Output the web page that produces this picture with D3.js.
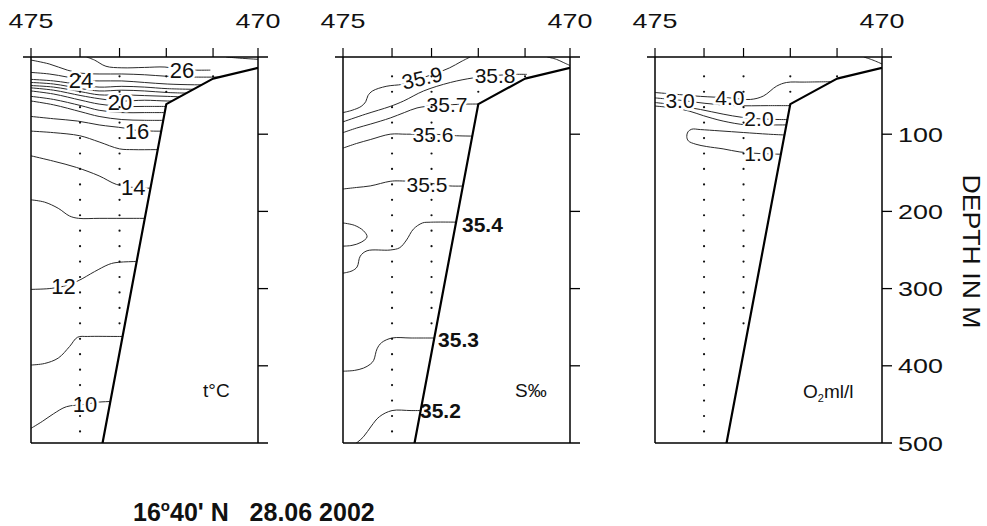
<!DOCTYPE html>
<html>
<head>
<meta charset="utf-8">
<script src="https://cdn.jsdelivr.net/npm/d3@7"></script>
<style>
  html, body { margin: 0; padding: 0; background: #fff; }
  svg { display: block; }
</style>
</head>
<body>
<svg id="chart" width="987" height="526"></svg>
<script>
// ---- Section geometry -------------------------------------------------
// Station numbers and their positions along the section (0 = st. 475, 100 = st. 470)
const stations    = [475, 474, 473, 472, 471, 470];
const stationDist = [0, 21.6, 39.0, 59.6, 80.2, 100];

// Sea-floor depth (m) under stations 474 ... 470
const bottomDist  = [21.6, 39.0, 59.6, 80.2, 100];
const bottomDepth = [655, 383, 61, 28, 14];

// Bottle / CTD sampling depths (m) shown as dots
const samples474 = [25, 45, 65, 85, 105, 125, 145, 165, 185, 205, 225, 245, 265, 285, 305, 325, 345, 365, 385, 405, 425, 445, 465, 485];
const samples473 = [25, 45, 65, 85, 105, 125, 145, 165, 185, 205, 225, 245, 265, 285, 305, 325, 345];
const samples472 = [25, 45];
const samples471 = [25];

const depthTicks = [100, 200, 300, 400, 500];
const edgeLabels = ["475", "470"];

// ---- Temperature (°C) isolines: [distance, depth] -----------------------
const tempContours = [
  { value: 27, pts: [[86, 0], [92, 1.5], [100, 3]] },
  { value: 26, pts: [[24.5, 0], [28, 4], [33, 12], [40, 14], [50, 13.5], [59, 13], [66.5, 16], [72, 17], [79, 17]] },
  { value: 25, pts: [[0, 4], [8, 9], [16, 17], [22, 21], [30, 22], [40, 22], [50, 23], [60, 25], [72, 26], [86, 26]] },
  { value: 24, pts: [[0, 20], [8, 22], [16, 26], [22, 30], [30, 31], [40, 31], [50, 33], [60, 35], [72, 36], [80, 36]] },
  { value: 23, pts: [[0, 29], [10, 31], [22, 36], [30, 39], [40, 38], [50, 39], [60, 41], [75, 42]] },
  { value: 22, pts: [[0, 33], [10, 35], [22, 41], [30, 44], [40, 43], [50, 44], [60, 46], [72, 47]] },
  { value: 21, pts: [[0, 37], [10, 39], [22, 45], [30, 49], [40, 49], [50, 50], [60, 51], [70, 52]] },
  { value: 20, pts: [[0, 40], [10, 43], [22, 50], [30, 54], [39, 57], [50, 56], [60, 57], [66, 57]] },
  { value: 19, pts: [[0, 44], [10, 48], [22, 56], [30, 61], [40, 64], [50, 64], [62, 64]] },
  { value: 18, pts: [[0, 51], [10, 55], [22, 63], [30, 69], [40, 72], [50, 72], [62, 72]] },
  { value: 17, pts: [[0, 57], [10, 62], [22, 71], [30, 77], [40, 81], [50, 82], [62, 82]] },
  { value: 16, pts: [[0, 77], [10, 80], [20.6, 83], [30, 88], [41, 92], [46.5, 95], [54, 96], [62, 96]] },
  { value: 15, pts: [[0, 96], [10, 98], [21.5, 102], [30, 110], [39, 119], [45, 120], [55, 120], [62, 120]] },
  { value: 14, pts: [[0, 128], [10, 135], [20, 143], [30, 154], [37.6, 165], [45, 169], [55, 170]] },
  { value: 13, pts: [[0, 185], [6, 188], [12, 196], [17, 206], [21, 209], [30, 209], [45, 209], [54, 209]] },
  { value: 12, pts: [[0, 301], [8, 300], [14.3, 297], [20.7, 290], [28, 278], [34, 269], [37, 266.5], [45, 265], [52, 265]] },
  { value: 11, pts: [[0, 399], [6, 397], [12, 390], [17, 375], [20.5, 363], [25, 362], [38, 362], [45, 362]] },
  { value: 10, pts: [[0, 481], [5, 472], [10, 462], [15.6, 453], [23.7, 450], [30, 447], [40, 446]] }
];
const tempLabels = [
  { value: 26, dist: 66.5, depth: 17 },
  { value: 24, dist: 22, depth: 30 },
  { value: 20, dist: 39.2, depth: 58 },
  { value: 16, dist: 46.7, depth: 96 },
  { value: 14, dist: 45, depth: 169 },
  { value: 12, dist: 14.3, depth: 297 },
  { value: 10, dist: 23.8, depth: 450 }
];

// ---- Salinity (‰) isolines ----------------------------------------------
const salContours = [
  { value: 36.0, pts: [[90, 0], [94, 3], [97, 7], [100, 11]] },
  { value: 35.9, pts: [[56, 0], [52, 6], [47, 14], [41, 21], [35, 27], [29, 33], [26, 35.5], [19, 38], [13, 44], [11, 50], [10, 58], [8, 64], [4, 69], [0, 72]] },
  { value: 35.8, pts: [[0, 84], [10, 74], [20.8, 64], [26.7, 57], [35.5, 44], [47.3, 33], [57.5, 27], [67, 24], [75, 22.5], [81, 22.5]] },
  { value: 35.7, pts: [[0, 98], [6, 92], [12, 87], [20.8, 79], [27, 72], [32.6, 66], [40, 63], [46, 62], [55, 61], [62, 61]] },
  { value: 35.6, pts: [[0, 118], [6, 112], [12, 107], [20.8, 100], [28, 100], [39.6, 100], [50, 102], [58, 102.5]] },
  { value: 35.5, pts: [[0, 171], [6, 169], [12, 167], [20.8, 161], [25, 160.5], [37, 163], [47, 167], [55, 167]] },
  { value: 35.4, pts: [[0, 280], [4, 277], [6.2, 272], [7.6, 258], [10.6, 251], [20.8, 250], [25, 247], [28, 237], [31, 223], [35, 215], [38.5, 214], [52, 214]] },
  { value: 35.4, pts: [[0, 215], [5, 218], [9, 225], [10.6, 233], [8, 240], [4, 244], [0, 245]] },
  { value: 35.3, pts: [[0, 407], [5, 406], [9, 403], [12, 398], [13.5, 393], [15, 378], [17, 370], [21.6, 364], [30, 364], [42, 364]] },
  { value: 35.2, pts: [[1, 515], [4, 505], [9, 492], [12.5, 478], [16, 466], [21.6, 458], [30, 458], [36, 458]] }
];
const salLabels = [
  { value: 35.9, dist: 34.8, depth: 27 },
  { value: 35.8, dist: 67, depth: 23.4 },
  { value: 35.7, dist: 45.8, depth: 62 },
  { value: 35.6, dist: 39.6, depth: 100 },
  { value: 35.5, dist: 37, depth: 165.5 },
  { value: 35.4, dist: 52.4, depth: 217 },
  { value: 35.3, dist: 41.9, depth: 366 },
  { value: 35.2, dist: 33.9, depth: 458 }
];

// ---- Dissolved oxygen (ml/l) isolines -------------------------------------
const oxyContours = [
  { value: 5.0, pts: [[92, 0], [96, 4], [100, 9]] },
  { value: 4.0, pts: [[0, 46], [8, 48], [20, 51], [33, 53], [42, 55], [47.7, 50.6], [53.6, 37.7], [58, 33], [66, 32.5], [78, 32]] },
  { value: 3.0, pts: [[0, 53], [11, 56], [22, 60], [35, 63], [50, 63], [62, 63]] },
  { value: 2.0, pts: [[0, 59], [6, 61], [12, 64], [20, 68], [30, 74], [38, 78], [45.8, 80], [55, 81], [60, 81]] },
  { value: 1.5, pts: [[0, 63.5], [8, 66], [15, 70], [21.3, 76], [30, 83], [40.4, 88], [50, 88], [60, 88]] },
  { value: 1.0, pts: [[57, 101], [50, 100], [38.9, 97.8], [28.6, 95.7], [20, 94], [16.2, 93.5], [14.5, 97], [14, 103], [14.7, 108.7], [18, 113], [22.8, 116], [30, 119], [37.4, 123], [45.8, 125], [56, 126]] }
];
const oxyLabels = [
  { value: 3.0, dist: 11, depth: 56 },
  { value: 4.0, dist: 33, depth: 53 },
  { value: 2.0, dist: 45.8, depth: 80 },
  { value: 1.0, dist: 45.8, depth: 125 }
];

// ---- Drawing -------------------------------------------------------------
const FONT = "'Liberation Sans', Arial, Helvetica, sans-serif";
const svg = d3.select("#chart");
const defs = svg.append("defs");

const panelLeft = [31, 343, 655];
const panelWidth = 227;
const y = d3.scaleLinear().domain([0, 500]).range([57, 443]);

const panels = [
  { contours: tempContours, labels: tempLabels, fmt: d3.format("d"), size: 22, unit: "t" },
  { contours: salContours, labels: salLabels, fmt: d3.format(".1f"), size: 21, unit: "s" },
  { contours: oxyContours, labels: oxyLabels, fmt: d3.format(".1f"), size: 21, unit: "o" }
];

// salinity labels that sit beside the slope (printed bold, left-aligned)
const slopeLabels = new Set([35.4, 35.3, 35.2]);
const tiltedLabels = new Map([[35.9, -13]]);

const stationSamples = [
  { dist: stationDist[1], depths: samples474 },
  { dist: stationDist[2], depths: samples473 },
  { dist: stationDist[3], depths: samples472 },
  { dist: stationDist[4], depths: samples471 }
];

// text that is drawn a bit wider than the regular face
function wideText(parent, x, yPos, str, size, sx, anchor, rotate) {
  const g = parent.append("g")
    .attr("transform", `translate(${x},${yPos}) rotate(${rotate || 0}) scale(${sx},1)`);
  return g.append("text")
    .attr("text-anchor", anchor)
    .attr("font-family", FONT)
    .attr("font-size", size)
    .attr("fill", "#111")
    .text(str);
}

panels.forEach((p, i) => {
  const x = d3.scaleLinear().domain([0, 100]).range([panelLeft[i], panelLeft[i] + panelWidth]);
  const g = svg.append("g");

  // clip to the panel frame, then to the water column above the sea floor
  defs.append("clipPath").attr("id", "frame" + i)
    .append("rect")
    .attr("x", x(0)).attr("y", y(0))
    .attr("width", x(100) - x(0)).attr("height", y(500) - y(0));

  const waterPts = [[0, 0], [100, 0]];
  for (let k = bottomDist.length - 1; k >= 0; k--) waterPts.push([bottomDist[k], bottomDepth[k]]);
  waterPts.push([0, bottomDepth[0]]);
  defs.append("clipPath").attr("id", "water" + i)
    .append("path")
    .attr("d", d3.line().x(d => x(d[0])).y(d => y(d[1]))(waterPts) + "Z");

  const water = g.append("g").attr("clip-path", `url(#frame${i})`)
    .append("g").attr("clip-path", `url(#water${i})`);

  const iso = d3.line()
    .x(d => x(d[0])).y(d => y(d[1]))
    .curve(d3.curveCatmullRom.alpha(0.5));

  water.selectAll("path.iso")
    .data(p.contours)
    .join("path")
    .attr("class", "iso")
    .attr("d", d => iso(d.pts))
    .attr("fill", "none")
    .attr("stroke", "#2a2a2a")
    .attr("stroke-width", 1);

  // isoline labels (white halo breaks the line under the number)
  p.labels.forEach(l => {
    const onSlope = i === 1 && slopeLabels.has(l.value);
    const rot = i === 1 && tiltedLabels.has(l.value) ? tiltedLabels.get(l.value) : 0;
    g.append("text")
      .attr("transform", `translate(${x(l.dist)},${y(l.depth)}) rotate(${rot})`)
      .attr("dy", "0.36em")
      .attr("text-anchor", onSlope ? "start" : "middle")
      .attr("font-family", FONT)
      .attr("font-size", p.size)
      .attr("font-weight", onSlope ? "bold" : "normal")
      .attr("fill", "#111")
      .attr("stroke", "#fff")
      .attr("stroke-width", onSlope ? 0 : 5)
      .attr("paint-order", "stroke")
      .text(p.fmt(l.value));
  });

  // sea floor
  g.append("g").attr("clip-path", `url(#frame${i})`)
    .append("path")
    .attr("d", d3.line().x((d, k) => x(bottomDist[k])).y(d => y(d))(bottomDepth))
    .attr("fill", "none")
    .attr("stroke", "#000")
    .attr("stroke-width", 2.2)
    .attr("stroke-linejoin", "round");

  // frame
  const frame = g.append("g").attr("stroke", "#000").attr("stroke-width", 1.5);
  frame.append("line").attr("x1", x(0) - 8).attr("x2", x(100) + 10).attr("y1", y(0)).attr("y2", y(0));
  frame.append("line").attr("x1", x(0)).attr("x2", x(100) + 10).attr("y1", y(500)).attr("y2", y(500));
  frame.append("line").attr("x1", x(0)).attr("x2", x(0)).attr("y1", y(0)).attr("y2", y(500));
  frame.append("line").attr("x1", x(100)).attr("x2", x(100)).attr("y1", y(0)).attr("y2", y(500));

  // station ticks on top, depth ticks on the right
  frame.selectAll("line.st").data(stationDist).join("line").attr("class", "st")
    .attr("x1", d => x(d)).attr("x2", d => x(d))
    .attr("y1", y(0)).attr("y2", y(0) - 9)
    .attr("stroke-width", 1.2);
  frame.selectAll("line.dt").data(depthTicks.slice(0, -1)).join("line").attr("class", "dt")
    .attr("x1", x(100)).attr("x2", x(100) + 10)
    .attr("y1", d => y(d)).attr("y2", d => y(d))
    .attr("stroke-width", 1.3);

  // station numbers at both ends of the section
  wideText(g, x(stationDist[0]), 28, edgeLabels[0], 21, 1.28, "middle");
  wideText(g, x(stationDist[stationDist.length - 1]), 28, edgeLabels[1], 21, 1.28, "middle");

  // sampling depths
  stationSamples.forEach(s => {
    g.selectAll(null).data(s.depths).join("circle")
      .attr("cx", x(s.dist)).attr("cy", d => y(d))
      .attr("r", 1.1).attr("fill", "#111");
  });

  // parameter name
  const unit = g.append("text")
    .attr("font-family", FONT).attr("font-size", 19).attr("fill", "#111");
  if (p.unit === "t") {
    unit.attr("x", x(0) + 172).attr("y", 397).text("t°C");
  } else if (p.unit === "s") {
    unit.attr("x", x(0) + 172).attr("y", 397).text("S‰");
  } else {
    unit.attr("x", x(0) + 148).attr("y", 398);
    unit.append("tspan").text("O");
    unit.append("tspan").attr("font-size", 11).attr("dy", 4).text("2");
    unit.append("tspan").attr("dy", -4).text("ml/l");
  }

  // depth scale on the last panel
  if (i === panels.length - 1) {
    depthTicks.forEach(d => {
      wideText(g, x(100) + 16, y(d) + 7.5, String(d), 21, 1.28, "start");
    });
    wideText(g, 963, 251.5, "DEPTH IN M", 23, 1.16, "middle", 90);
  }
});

// section position and date
const title = svg.append("text")
  .attr("x", 133).attr("y", 521)
  .attr("font-family", FONT).attr("font-size", 25).attr("font-weight", "bold")
  .attr("fill", "#111")
  .style("white-space", "pre");
title.append("tspan").text("16");
title.append("tspan").attr("font-size", 15).attr("dy", -10).text("o");
title.append("tspan").attr("dy", 10).text("40' N   28.06 2002");
</script>
</body>
</html>
